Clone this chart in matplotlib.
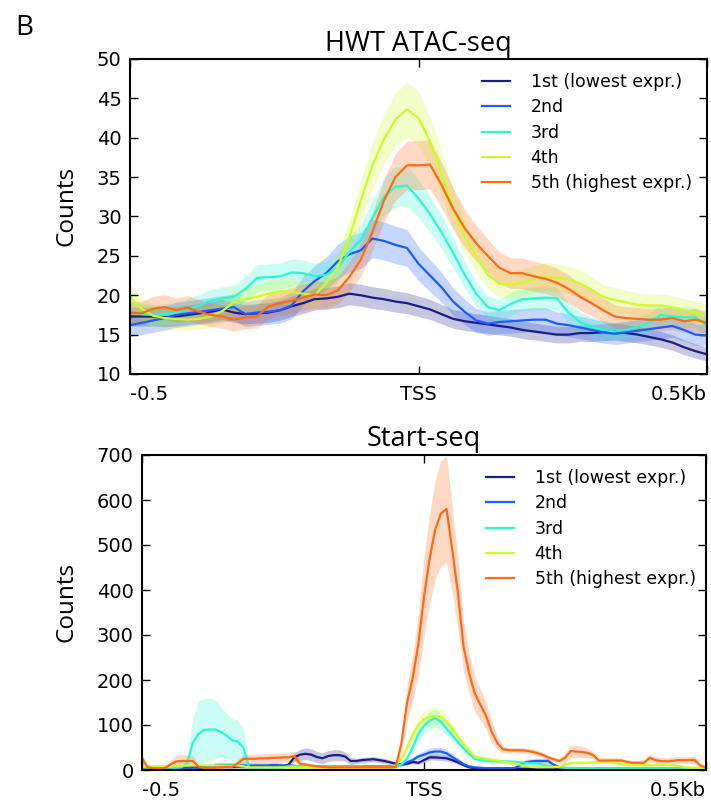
import numpy as np
import matplotlib
matplotlib.use("Agg")
import matplotlib.pyplot as plt

# ---------------- data ----------------
labels = ['1st (lowest expr.)', '2nd', '3rd', '4th', '5th (highest expr.)']
colors = ['#1c1c86', '#1a5cff', '#2cf7d0', '#cdfa2a', '#ff6a14']

xtick_pos = [-500, 0, 500]
xtick_labels = ['-0.5', 'TSS', '0.5Kb']

# HWT ATAC-seq, 20 bp steps from -500 to +500
atac_q1 = [17.3, 17.3, 17.3, 17.2, 17.3, 17.5, 17.7, 17.9, 18.2, 17.8,
           17.6, 17.7, 17.8, 18.1, 18.6, 19.0, 19.5, 19.6, 19.8, 20.2,
           20.0, 19.7, 19.5, 19.2, 19.0, 18.6, 18.2, 17.6, 17.0, 16.7,
           16.5, 16.3, 16.1, 15.9, 15.6, 15.4, 15.2, 15.0, 15.0, 15.2,
           15.2, 15.3, 15.4, 15.2, 15.0, 14.7, 14.4, 14.0, 13.4, 12.9,
           12.5]
atac_q2 = [16.2, 16.5, 16.8, 17.1, 17.5, 17.7, 17.9, 18.1, 18.3, 18.5,
           17.6, 17.8, 17.9, 18.1, 18.7, 20.5, 21.8, 22.8, 24.3, 25.2,
           25.7, 27.2, 26.9, 26.4, 26.0, 24.0, 22.5, 21.0, 19.2, 17.9,
           16.8, 16.4, 16.6, 16.7, 16.8, 16.9, 16.9, 16.4, 16.2, 15.9,
           15.6, 15.3, 15.1, 15.3, 15.5, 15.7, 15.9, 16.1, 15.6, 15.0,
           14.9]
atac_q3 = [18.0, 17.6, 17.5, 17.6, 17.8, 18.2, 18.7, 19.3, 19.6, 19.8,
           20.8, 22.2, 22.3, 22.4, 22.9, 22.8, 22.4, 22.6, 23.5, 25.5,
           27.0, 29.8, 32.5, 33.8, 33.9, 32.3, 30.3, 28.0, 25.4, 22.6,
           20.2, 18.5, 18.1, 18.9, 19.5, 19.6, 19.7, 19.6, 17.8, 16.6,
           16.0, 15.6, 15.4, 15.6, 16.0, 16.5, 17.5, 17.3, 17.2, 17.2,
           16.2]
atac_q4 = [19.8, 18.3, 17.4, 17.1, 17.0, 16.9, 17.0, 17.3, 18.0, 19.1,
           19.5, 19.8, 20.2, 20.5, 20.4, 20.2, 20.0, 21.5, 23.5, 27.3,
           32.0, 36.5, 39.8, 42.3, 43.6, 42.5, 39.5, 35.5, 31.0, 27.5,
           25.0, 22.6, 21.5, 21.3, 21.6, 22.0, 22.4, 22.2, 22.0, 21.5,
           20.7, 19.8, 19.4, 19.1, 18.8, 18.7, 18.7, 18.5, 18.1, 17.8,
           17.5]
atac_q5 = [17.8, 17.7, 18.3, 18.5, 18.1, 18.4, 17.9, 17.5, 17.3, 16.9,
           17.2, 17.3, 18.6, 19.0, 19.3, 19.7, 20.1, 20.0, 20.6, 22.3,
           24.5, 28.0, 32.0, 35.0, 36.5, 36.5, 36.6, 34.0, 31.0, 28.5,
           26.6, 25.0, 23.5, 22.8, 22.8, 22.4, 22.1, 21.6, 20.8, 19.8,
           19.0, 18.1, 17.3, 17.1, 17.0, 16.9, 16.9, 17.1, 16.7, 16.9,
           16.5]
atac_band_frac = [0.07, 0.09, 0.075, 0.08, 0.085]

# Start-seq, 10 bp steps from -500 to +500
start_q1 = ([5, 4, 3, 3, 3, 3, 3, 4, 5, 6] +
            [7, 7, 7, 7, 7, 7, 7, 8, 8, 8] +
            [9, 9, 9, 8, 8, 8, 12, 28, 34, 36] +
            [34, 29, 26, 31, 33, 33, 30, 20, 20, 22] +
            [23, 24, 22, 20, 17, 14, 12, 14, 18, 16] +
            [22, 28, 28, 27, 26, 22, 17, 11, 6, 4] +
            [3, 3, 3, 3, 3, 3, 3, 3, 3, 3] +
            [3, 3, 3, 3, 3, 3, 3, 3, 3, 3] +
            [3, 3, 3, 3, 3, 3, 3, 3, 3, 3] +
            [3, 3, 3, 3, 3, 3, 3, 3, 3, 3] + [3])
start_q1_err = ([2, 2, 2, 2, 2, 2, 2, 2, 2, 2] +
                [3, 3, 3, 3, 3, 3, 3, 3, 3, 3] +
                [3, 3, 3, 3, 3, 3, 5, 10, 12, 13] +
                [13, 12, 12, 12, 12, 12, 10, 8, 6, 6] +
                [6, 6, 6, 6, 5, 4, 3, 3, 4, 4] +
                [5, 6, 6, 6, 6, 5, 4, 3, 2, 2] +
                [2, 2, 2, 2, 2, 2, 2, 2, 2, 2] +
                [2, 2, 2, 2, 2, 2, 2, 2, 2, 2] +
                [2, 2, 2, 2, 2, 2, 2, 2, 2, 2] +
                [2, 2, 2, 2, 2, 2, 2, 2, 2, 2] + [2])
start_q2 = ([4, 4, 4, 4, 4, 4, 4, 4, 4, 5] +
            [5, 5, 6, 10, 11, 11, 11, 10, 10, 10] +
            [10, 10, 10, 11, 11, 10, 10, 9, 8, 8] +
            [8, 8, 8, 8, 8, 8, 8, 8, 8, 8] +
            [8, 8, 8, 8, 8, 9, 12, 17, 22, 30] +
            [34, 39, 41, 41, 37, 29, 21, 13, 8, 6] +
            [5, 4, 4, 4, 4, 4, 4, 10, 17, 19] +
            [20, 20, 20, 12, 6, 4, 4, 4, 4, 4] +
            [4, 4, 4, 4, 4, 4, 4, 4, 4, 4] +
            [4, 4, 4, 4, 4, 4, 4, 4, 4, 4] + [4])
start_q2_err = ([2, 2, 2, 2, 2, 2, 2, 2, 2, 2] +
                [2, 2, 3, 6, 6, 6, 6, 6, 6, 6] +
                [6, 6, 6, 6, 6, 5, 5, 4, 3, 3] +
                [3, 3, 3, 3, 3, 3, 3, 3, 3, 3] +
                [3, 3, 3, 3, 3, 3, 4, 5, 6, 7] +
                [8, 9, 9, 9, 8, 7, 6, 4, 3, 2] +
                [2, 2, 2, 2, 2, 2, 2, 4, 6, 6] +
                [6, 6, 6, 4, 2, 2, 2, 2, 2, 2] +
                [2, 2, 2, 2, 2, 2, 2, 2, 2, 2] +
                [2, 2, 2, 2, 2, 2, 2, 2, 2, 2] + [2])
start_q3 = ([6, 5, 5, 5, 5, 5, 5, 6, 15, 60] +
            [80, 89, 90, 90, 85, 76, 66, 63, 50, 5] +
            [4, 4, 4, 4, 5, 6, 8, 9, 9, 9] +
            [9, 9, 9, 9, 8, 8, 8, 8, 8, 8] +
            [7, 7, 7, 7, 7, 8, 12, 25, 50, 80] +
            [98, 110, 115, 107, 92, 77, 62, 48, 36, 25] +
            [22, 21, 20, 19, 19, 19, 18, 17, 16, 15] +
            [15, 12, 9, 7, 6, 5, 4, 4, 4, 4] +
            [4, 4, 4, 4, 4, 4, 4, 4, 4, 4] +
            [4, 4, 4, 4, 4, 4, 4, 4, 4, 4] + [4])
start_q3_err = ([4, 3, 3, 3, 3, 3, 3, 4, 15, 55] +
                [75, 70, 70, 65, 55, 50, 48, 48, 40, 3] +
                [3, 3, 3, 3, 3, 3, 3, 3, 3, 3] +
                [3, 3, 3, 3, 3, 3, 3, 3, 3, 3] +
                [3, 3, 3, 3, 3, 3, 5, 8, 12, 15] +
                [18, 20, 20, 18, 15, 12, 10, 8, 6, 5] +
                [5, 5, 5, 5, 5, 5, 5, 5, 5, 5] +
                [5, 4, 3, 3, 3, 3, 3, 3, 3, 3] +
                [3, 3, 3, 3, 3, 3, 3, 3, 3, 3] +
                [3, 3, 3, 3, 3, 3, 3, 3, 3, 3] + [3])
start_q4 = ([8, 8, 8, 8, 8, 8, 9, 10, 10, 10] +
            [10, 10, 10, 10, 10, 10, 10, 10, 8, 6] +
            [6, 6, 6, 6, 6, 6, 6, 6, 6, 6] +
            [6, 6, 6, 6, 6, 6, 6, 6, 6, 6] +
            [6, 6, 6, 6, 6, 10, 25, 50, 78, 100] +
            [113, 118, 120, 118, 108, 92, 75, 58, 42, 30] +
            [27, 25, 23, 21, 19, 17, 15, 12, 9, 7] +
            [6, 6, 6, 6, 8, 13, 15, 16, 16, 16] +
            [17, 18, 19, 18, 15, 13, 12, 11, 11, 11] +
            [11, 11, 11, 11, 11, 9, 7, 5, 5, 5] + [5])
start_q4_err = ([3, 3, 3, 3, 3, 3, 3, 3, 3, 3] +
                [3, 3, 3, 3, 3, 3, 3, 3, 3, 3] +
                [3, 3, 3, 3, 3, 3, 3, 3, 3, 3] +
                [3, 3, 3, 3, 3, 3, 3, 3, 3, 3] +
                [3, 3, 3, 3, 3, 3, 5, 8, 12, 15] +
                [18, 20, 20, 18, 15, 12, 10, 8, 6, 5] +
                [4, 4, 4, 4, 4, 4, 4, 3, 3, 3] +
                [3, 3, 3, 3, 3, 3, 3, 3, 3, 3] +
                [3, 3, 4, 4, 3, 3, 3, 3, 3, 3] +
                [3, 3, 3, 3, 3, 3, 3, 3, 3, 3] + [3])
start_q5 = ([26, 6, 4, 4, 4, 12, 19, 20, 20, 20] +
            [8, 4, 4, 5, 6, 7, 7, 15, 25, 25] +
            [25, 26, 26, 27, 27, 28, 28, 31, 14, 12] +
            [10, 8, 7, 6, 6, 6, 6, 6, 6, 6] +
            [6, 6, 6, 6, 6, 7, 60, 150, 205, 280] +
            [385, 470, 535, 570, 580, 490, 395, 275, 215, 170] +
            [145, 120, 85, 60, 46, 44, 44, 44, 43, 41] +
            [38, 34, 28, 24, 20, 27, 42, 41, 40, 38] +
            [33, 21, 21, 21, 21, 21, 18, 16, 16, 16] +
            [27, 22, 20, 19, 20, 22, 22, 22, 22, 10] + [6])
start_q5_err = ([10, 4, 3, 3, 3, 8, 14, 14, 14, 12] +
                [5, 3, 3, 3, 3, 4, 4, 8, 10, 10] +
                [10, 10, 10, 10, 10, 10, 10, 10, 8, 6] +
                [5, 4, 3, 3, 3, 3, 3, 3, 3, 3] +
                [3, 3, 3, 3, 3, 4, 20, 40, 50, 70] +
                [90, 100, 110, 118, 118, 95, 80, 55, 45, 40] +
                [35, 30, 25, 15, 8, 6, 6, 6, 6, 6] +
                [6, 6, 5, 5, 5, 10, 14, 14, 12, 10] +
                [8, 6, 6, 6, 6, 6, 5, 5, 5, 8] +
                [8, 8, 8, 8, 8, 8, 8, 8, 8, 5] + [3])

atac_series = [atac_q1, atac_q2, atac_q3, atac_q4, atac_q5]
start_series = [start_q1, start_q2, start_q3, start_q4, start_q5]
start_errs = [start_q1_err, start_q2_err, start_q3_err, start_q4_err, start_q5_err]

# ---------------- figure ----------------
W, H = 711, 802
fig = plt.figure(figsize=(W / 100, H / 100), dpi=100)
ax1 = fig.add_axes([130 / W, 1 - 374 / H, 577 / W, 315 / H])
ax2 = fig.add_axes([142 / W, 1 - 770 / H, 564 / W, 315 / H])

TITLE_FONT = ['Open Sans', 'DejaVu Sans']


def style(ax, ylim, yticks, title, title_pad, label_x):
    ax.set_xlim(-500, 500)
    ax.set_ylim(*ylim)
    ax.set_yticks(yticks)
    ax.set_xticks(xtick_pos)
    ax.set_xticklabels(xtick_labels)
    tl = ax.get_xticklabels()
    tl[0].set_horizontalalignment('left')
    tl[-1].set_horizontalalignment('right')
    ax.tick_params(direction='in', top=True, right=True, length=6, width=1,
                   labelsize=14, colors='black')
    ax.tick_params(axis='x', pad=8)
    ax.tick_params(axis='y', pad=6)
    for s in ax.spines.values():
        s.set_linewidth(1.5)
    ax.set_title(title, family=TITLE_FONT, fontsize=19.5, pad=title_pad)
    ax.set_ylabel('Counts', family=TITLE_FONT, fontsize=17.5)
    ax.yaxis.set_label_coords(label_x, 0.533)
    ax.legend(loc='upper left', bbox_to_anchor=(0.610, 0.955), frameon=False,
              fontsize=12.5, handlelength=1.6, handletextpad=1.2,
              labelspacing=0.42, borderpad=0, borderaxespad=0)


# ATAC
for vals, frac, c, lab in zip(atac_series, atac_band_frac, colors, labels):
    y = np.array(vals)
    x = np.linspace(-500, 500, len(y))
    ax1.fill_between(x, y * (1 - frac), y * (1 + frac), color=c, alpha=0.25, lw=0)
    ax1.plot(x, y, color=c, lw=1.6, label=lab)
style(ax1, (10, 50), [10, 15, 20, 25, 30, 35, 40, 45, 50], 'HWT ATAC-seq', 6.0, -0.090)

# Start-seq
for vals, err, c, lab in zip(start_series, start_errs, colors, labels):
    y = np.array(vals, dtype=float)
    e = np.array(err, dtype=float)
    x = np.linspace(-500, 500, len(y))
    ax2.fill_between(x, np.clip(y - e, 0, None), y + e, color=c, alpha=0.25, lw=0)
    ax2.plot(x, y, color=c, lw=1.6, label=lab)
style(ax2, (0, 700), [0, 100, 200, 300, 400, 500, 600, 700], 'Start-seq', 6.5, -0.112)

fig.text(15 / W, 1 - 35 / H, 'B', family=TITLE_FONT, fontsize=20, va='baseline')

fig.savefig('out.png', dpi=100)
